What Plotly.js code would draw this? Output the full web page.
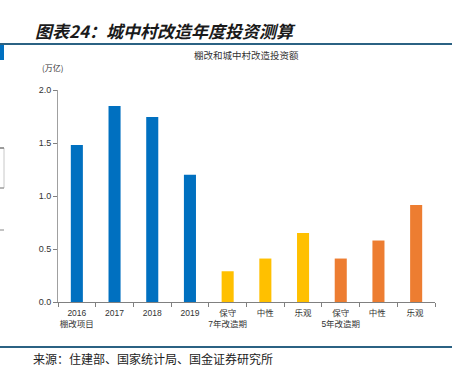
<!DOCTYPE html>
<html><head><meta charset="utf-8">
<script src="https://cdn.plot.ly/plotly-3.0.1.min.js"></script>
<style>html,body{margin:0;padding:0;background:#fff}#c{width:465px;height:383px}</style>
</head><body><div id="c"></div>
<script>
const categories = ["2016<br>棚改项目","2017","2018","2019","保守<br>7年改造期","中性","乐观","保守<br>5年改造期","中性 ","乐观 "];
const values = [1.48, 1.85, 1.745, 1.20, 0.29, 0.41, 0.65, 0.41, 0.58, 0.915];
const barColors = ["#0070C0","#0070C0","#0070C0","#0070C0","#FFC000","#FFC000","#FFC000","#ED7D31","#ED7D31","#ED7D31"];
const yTicks = [0, 0.5, 1.0, 1.5, 2.0];

const L=58, R=435, T=90, B=302;
const px = x => (x - L) / (R - L);
const py = y => (B - y) / (B - T);
const cjk = '"Noto Sans CJK SC", "Liberation Sans", sans-serif';
const mixed = '"Liberation Sans", "Noto Sans CJK SC", sans-serif';

const data = [{
  type: 'bar', x: categories, y: values,
  marker: {color: barColors, line: {width: 0}},
  width: 0.32, hoverinfo: 'none'
}];

const layout = {
  width: 465, height: 383,
  margin: {l: L, r: 465 - R, t: T, b: 383 - B},
  paper_bgcolor: '#fff', plot_bgcolor: '#fff',
  showlegend: false,
  font: {family: cjk, size: 9, color: '#333'},
  xaxis: {
    type: 'category', showgrid: false, zeroline: false,
    showline: true, linecolor: '#808080', linewidth: 1,
    ticks: 'outside', ticklen: 4, tickcolor: '#808080', tickson: 'boundaries',
    tickangle: 0, automargin: false, ticklabelstandoff: 3,
    tickfont: {family: mixed, size: 8.5, color: '#333'}
  },
  yaxis: {
    range: [0, 2], tickvals: yTicks, tickformat: '.1f',
    showgrid: false, zeroline: false,
    showline: true, linecolor: '#A0A0A0', linewidth: 1,
    ticks: 'outside', ticklen: 4, tickcolor: '#808080',
    tickfont: {family: '"Liberation Sans", Arial, sans-serif', size: 9, color: '#333'}
  },
  shapes: [
    {type: 'line', xref: 'paper', yref: 'paper', x0: px(0), x1: px(452), y0: py(44), y1: py(44), line: {color: '#2B6283', width: 2}},
    {type: 'line', xref: 'paper', yref: 'paper', x0: px(0), x1: px(452), y0: py(347), y1: py(347), line: {color: '#2B6283', width: 2}},
    {type: 'rect', xref: 'paper', yref: 'paper', x0: px(0), x1: px(4), y0: py(60), y1: py(45), fillcolor: '#0070C0', line: {width: 0}},
    {type: 'rect', xref: 'paper', yref: 'paper', x0: px(-2), x1: px(4), y0: py(188), y1: py(148), fillcolor: 'rgba(0,0,0,0)', line: {color: '#C8C8C8', width: 1}},
    {type: 'line', xref: 'paper', yref: 'paper', x0: px(0), x1: px(4), y0: py(148), y1: py(148), line: {color: '#555', width: 1}},
    {type: 'line', xref: 'paper', yref: 'paper', x0: px(0), x1: px(4), y0: py(188), y1: py(188), line: {color: '#888', width: 1}},
    {type: 'line', xref: 'paper', yref: 'paper', x0: px(0), x1: px(4), y0: py(230), y1: py(230), line: {color: '#888', width: 1}}
  ],
  annotations: [
    {xref: 'paper', yref: 'paper', x: px(33), y: py(30), xanchor: 'left', yanchor: 'middle', showarrow: false,
     text: '图表24：城中村改造年度投资测算', font: {family: cjk, size: 17, color: '#1a1a1a', weight: 'bold', style: 'italic'}},
    {xref: 'paper', yref: 'paper', x: px(246), y: py(55), xanchor: 'center', yanchor: 'middle', showarrow: false,
     text: '棚改和城中村改造投资额', font: {family: cjk, size: 9.5, color: '#333'}},
    {xref: 'paper', yref: 'paper', x: px(40), y: py(67), xanchor: 'left', yanchor: 'middle', showarrow: false,
     text: '(万亿)', font: {family: cjk, size: 8, color: '#333'}},
    {xref: 'paper', yref: 'paper', x: px(31), y: py(358), xanchor: 'left', yanchor: 'middle', showarrow: false,
     text: '来源：住建部、国家统计局、国金证券研究所', font: {family: cjk, size: 12, color: '#222'}}
  ]
};

Plotly.newPlot('c', data, layout, {displayModeBar: false, staticPlot: true});
</script></body></html>
